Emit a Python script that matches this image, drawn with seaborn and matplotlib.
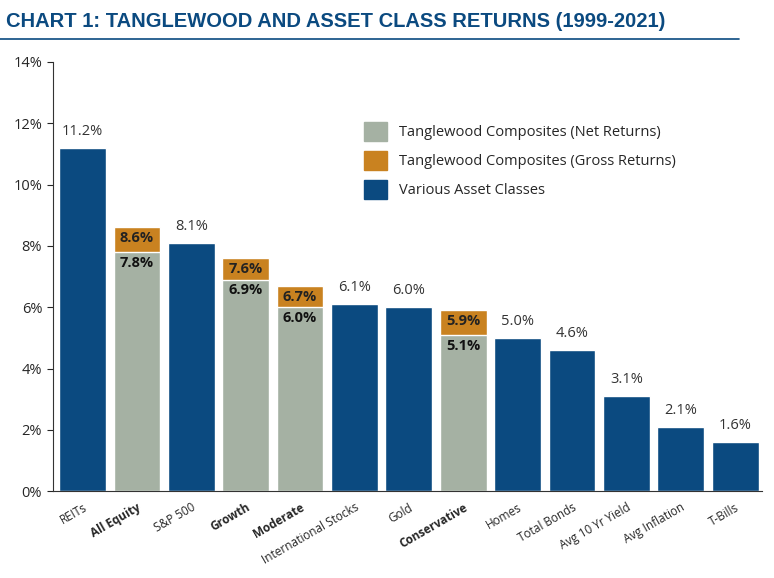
import matplotlib
matplotlib.use("Agg")
import matplotlib.pyplot as plt
import seaborn as sns
import pandas as pd
from matplotlib.patches import Patch

categories = ["REITs", "All Equity", "S&P 500", "Growth", "Moderate", "International Stocks",
              "Gold", "Conservative", "Homes", "Total Bonds", "Avg 10 Yr Yield",
              "Avg Inflation", "T-Bills"]
kind = ["asset", "comp", "asset", "comp", "comp", "asset", "asset", "comp",
        "asset", "asset", "asset", "asset", "asset"]
net = [11.2, 7.8, 8.1, 6.9, 6.0, 6.1, 6.0, 5.1, 5.0, 4.6, 3.1, 2.1, 1.6]
gross = [None, 8.6, None, 7.6, 6.7, None, None, 5.9, None, None, None, None, None]

NAVY = "#0b4a80"
GREEN = "#a5b1a3"
ORANGE = "#c98220"

sns.set_style("white")
plt.rcParams["font.family"] = ["Open Sans", "DejaVu Sans"]

df = pd.DataFrame({"cat": categories, "net": net, "kind": kind})
df["top"] = [g if g is not None else n for n, g in zip(net, gross)]

fig, ax = plt.subplots(figsize=(7.74, 5.78), dpi=100)
fig.subplots_adjust(left=0.068, right=0.985, top=0.893, bottom=0.15)

pal_top = [ORANGE if k == "comp" else NAVY for k in kind]
pal_net = [GREEN if k == "comp" else NAVY for k in kind]
sns.barplot(data=df, x="cat", y="top", hue="cat", palette=pal_top, width=0.86,
            legend=False, ax=ax, saturation=1)
sns.barplot(data=df, x="cat", y="net", hue="cat", palette=pal_net, width=0.86,
            legend=False, ax=ax, saturation=1)

for i, (n, g) in enumerate(zip(net, gross)):
    if g is None:
        ax.text(i, n + 0.3, f"{n:.1f}%", ha="center", va="bottom", fontsize=10.5, color="#333333")
    else:
        ax.text(i, g - 0.35, f"{g:.1f}%", ha="center", va="center", fontsize=10.5,
                fontweight="bold", color="#222222")
        ax.text(i, n - 0.35, f"{n:.1f}%", ha="center", va="center", fontsize=10.5,
                fontweight="bold", color="#111111")

ax.set_ylim(0, 14)
ax.set_xlim(-0.55, len(categories) - 0.5)
ax.set_yticks(range(0, 15, 2))
ax.set_yticklabels([f"{v}%" for v in range(0, 15, 2)], fontsize=10.5)
ax.set_xlabel("")
ax.set_ylabel("")
ax.set_xticks(range(len(categories)))
ax.set_xticklabels(categories, rotation=30, ha="right", rotation_mode="anchor", fontsize=8.5)
for lab, k in zip(ax.get_xticklabels(), kind):
    if k == "comp":
        lab.set_fontweight("bold")
for s in ["top", "right"]:
    ax.spines[s].set_visible(False)
ax.spines["left"].set_color("#333333")
ax.spines["bottom"].set_color("#333333")
ax.tick_params(axis="y", length=4, left=True)

handles = [Patch(color=GREEN, label="Tanglewood Composites (Net Returns)"),
           Patch(color=ORANGE, label="Tanglewood Composites (Gross Returns)"),
           Patch(color=NAVY, label="Various Asset Classes")]
ax.legend(handles=handles, loc="upper left", bbox_to_anchor=(0.42, 0.89), frameon=False,
          fontsize=10.5, handlelength=1.6, handleheight=1.6, labelspacing=0.7)

fig.text(0.008, 0.962, "CHART 1: TANGLEWOOD AND ASSET CLASS RETURNS (1999-2021)",
         fontsize=14.5, fontweight="bold", color="#0b4a80", va="center",
         family=["Liberation Sans", "DejaVu Sans"])
fig.add_artist(plt.Line2D([0.0, 0.955], [0.933, 0.933], color="#0b4a80", lw=1.2))

fig.savefig("out.png", dpi=100)
